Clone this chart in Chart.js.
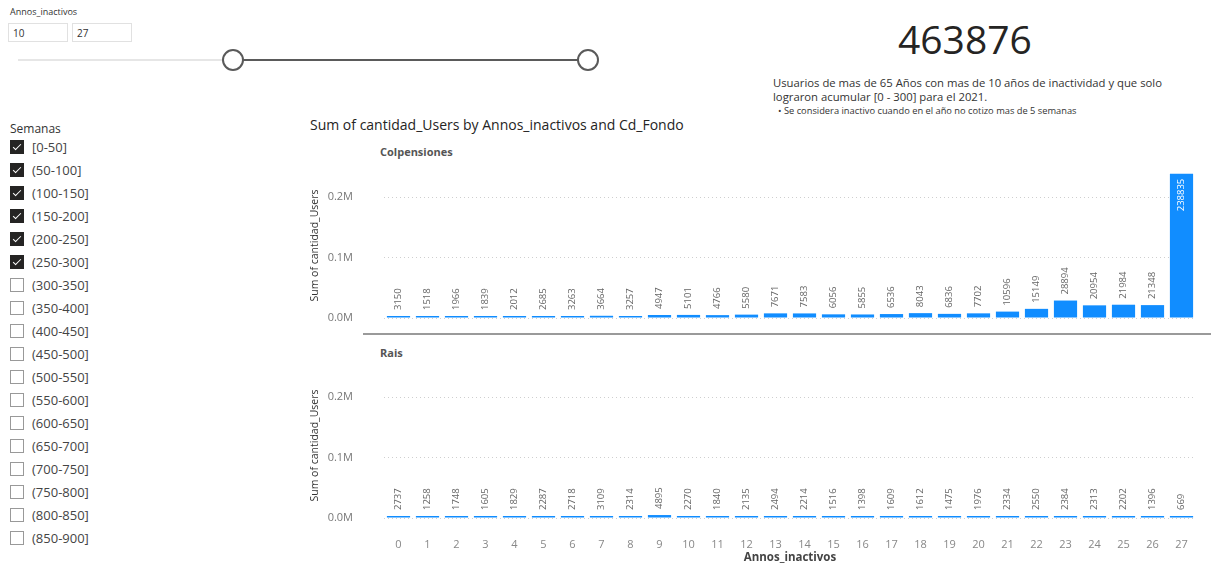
<!DOCTYPE html>
<html>
<head>
<meta charset="utf-8">
<script src="https://cdn.jsdelivr.net/npm/chart.js@4.4.1/dist/chart.umd.min.js"></script>
<style>
  body { margin: 0; width: 1211px; height: 565px; background: #fff; position: relative; overflow: hidden;
         font-family: "Segoe UI", "Open Sans", sans-serif; color: #252423; }
  .abs { position: absolute; white-space: nowrap; }
  .box { position: absolute; border: 1px solid #e1e1e1; height: 19px; font-size: 10px; line-height: 19px; padding-left: 4px; color: #333; box-sizing: border-box; }
  .cb { position: absolute; left: 10px; width: 14px; height: 14px; box-sizing: border-box; border: 1px solid #999; background: #fff; }
  .cb.on { background: #252423; border-color: #252423; }
  .cb.on::after { content: ""; position: absolute; left: 4px; top: 1px; width: 3px; height: 7px; border: solid #fff; border-width: 0 1.5px 1.5px 0; transform: rotate(45deg); }
  .lbl { position: absolute; left: 32px; font-size: 13px; color: #444; line-height: 16px; }
  .chartbox { position: absolute; left: 300px; width: 911px; }
</style>
</head>
<body>
<div class="abs" style="left:10px;top:5px;font-size:9px;color:#333;">Annos_inactivos</div>
<div class="box" style="left:8px;top:23px;width:60px;">10</div>
<div class="box" style="left:72px;top:23px;width:60px;">27</div>
<div class="abs" style="left:18px;top:59px;width:215px;height:2px;background:#e6e6e6;"></div>
<div class="abs" style="left:233px;top:59px;width:355px;height:2px;background:#5a5a5a;"></div>
<div class="abs" style="left:222px;top:49px;width:18px;height:18px;border:2px solid #5a5a5a;border-radius:50%;background:#fff;"></div>
<div class="abs" style="left:577px;top:49px;width:18px;height:18px;border:2px solid #5a5a5a;border-radius:50%;background:#fff;"></div>

<div class="abs" style="left:898px;top:16px;font-size:39px;line-height:46px;color:#252423;font-family:'Open Sans',sans-serif;">463876</div>
<div class="abs" style="left:773px;top:76px;font-size:11.3px;line-height:14px;color:#333;">Usuarios de mas de 65 Años con mas de 10 años de inactividad y que solo<br>lograron acumular [0 - 300] para el 2021.</div>
<div class="abs" style="left:778px;top:105px;font-size:9.3px;line-height:12px;color:#333;">• Se considera inactivo cuando en el año no cotizo mas de 5 semanas</div>

<div class="abs" style="left:10px;top:120px;font-size:12px;color:#333;">Semanas</div>
<div id="semanas"></div>

<div class="abs" style="left:310px;top:115px;font-size:14px;color:#252423;">Sum of cantidad_Users by Annos_inactivos and Cd_Fondo</div>
<div class="abs" style="left:380px;top:144px;font-size:11px;font-weight:bold;color:#555;">Colpensiones</div>
<div class="abs" style="left:380px;top:345px;font-size:11px;font-weight:bold;color:#555;">Rais</div>
<div class="abs" style="left:363px;top:333px;width:848px;height:2px;background:#9a9a9a;"></div>

<div class="chartbox" style="top:160px;height:165px;"><canvas id="colp"></canvas></div>
<div class="chartbox" style="top:360px;height:205px;"><canvas id="rais"></canvas></div>

<script>
const annos = ["0","1","2","3","4","5","6","7","8","9","10","11","12","13","14","15","16","17","18","19","20","21","22","23","24","25","26","27"];
const colpensiones = [3150,1518,1966,1839,2012,2685,3263,3664,3257,4947,5101,4766,5580,7671,7583,6056,5855,6536,8043,6836,7702,10596,15149,28894,20954,21984,21348,238835];
const rais = [2737,1258,1748,1605,1829,2287,2718,3109,2314,4895,2270,1840,2135,2494,2214,1516,1398,1609,1612,1475,1976,2334,2550,2384,2313,2202,1396,669];
const semanas = ["[0-50]","(50-100]","(100-150]","(150-200]","(200-250]","(250-300]","(300-350]","(350-400]","(400-450]","(450-500]","(500-550]","(550-600]","(600-650]","(650-700]","(700-750]","(750-800]","(800-850]","(850-900]"];
const seleccion = 6;
const yTicks = [0, 100000, 200000];
const yMax = 240000;

// slicer list
const list = document.getElementById('semanas');
semanas.forEach((s, i) => {
  const y = 140 + i * 23;
  list.insertAdjacentHTML('beforeend',
    '<div class="cb' + (i < seleccion ? ' on' : '') + '" style="top:' + y + 'px"></div>' +
    '<div class="lbl" style="top:' + (y - 1) + 'px">' + s + '</div>');
});

const font = '"Segoe UI", "Open Sans", sans-serif';

const barLabels = {
  id: 'barLabels',
  afterDatasetsDraw(chart) {
    const ctx = chart.ctx;
    const area = chart.chartArea;
    const vals = chart.data.datasets[0].data;
    ctx.save();
    ctx.font = '9.5px ' + font;
    chart.getDatasetMeta(0).data.forEach((bar, i) => {
      const txt = String(vals[i]);
      const w = ctx.measureText(txt).width;
      ctx.save();
      ctx.translate(bar.x, bar.y);
      ctx.rotate(-Math.PI / 2);
      ctx.textBaseline = 'middle';
      if (bar.y - 6 - w < area.top) {
        ctx.fillStyle = '#fff';
        ctx.textAlign = 'right';
        ctx.fillText(txt, -5, 0);
      } else {
        ctx.fillStyle = '#666';
        ctx.textAlign = 'left';
        ctx.fillText(txt, 6, 0);
      }
      ctx.restore();
    });
    ctx.restore();
  }
};

function makeChart(id, values, showX) {
  const xScale = {
    display: showX,
    grid: { display: false, drawTicks: false },
    border: { display: false },
    ticks: { color: '#888', font: { family: font, size: 11 }, padding: 20, maxRotation: 0 },
    title: { display: true, text: 'Annos_inactivos', color: '#444', font: { family: font, size: 11.5, weight: 'bold' }, padding: { top: 0, bottom: 0 } }
  };
  if (showX) xScale.afterFit = scale => { scale.height = 47; scale.paddingLeft = 0; scale.paddingRight = 0; };

  return new Chart(document.getElementById(id), {
    type: 'bar',
    data: {
      labels: annos,
      datasets: [{
        data: values,
        backgroundColor: '#118DFF',
        barPercentage: 0.8,
        categoryPercentage: 1,
        minBarLength: 2
      }]
    },
    plugins: [barLabels],
    options: {
      responsive: true,
      maintainAspectRatio: false,
      animation: false,
      layout: { padding: { top: 13, right: 15, bottom: showX ? 0 : 7, left: 0 } },
      plugins: { legend: { display: false }, tooltip: { enabled: false } },
      scales: {
        x: xScale,
        y: {
          min: 0,
          max: yMax,
          grid: { color: '#cfcfcf', drawTicks: false },
          border: { display: false, dash: [1, 3] },
          afterBuildTicks(scale) { scale.ticks = yTicks.map(v => ({ value: v })); },
          ticks: {
            color: '#777',
            padding: 31,
            autoSkip: false,
            font: { family: font, size: 11 },
            callback: v => (v / 1e6).toFixed(1) + 'M'
          },
          title: { display: true, text: 'Sum of cantidad_Users', color: '#333', font: { family: font, size: 10.5 }, padding: { top: 9, bottom: 0 } },
          afterFit(scale) { scale.width = 84; scale.paddingTop = 0; scale.paddingBottom = 0; }
        }
      }
    }
  });
}

makeChart('colp', colpensiones, false);
makeChart('rais', rais, true);
</script>
</body>
</html>
